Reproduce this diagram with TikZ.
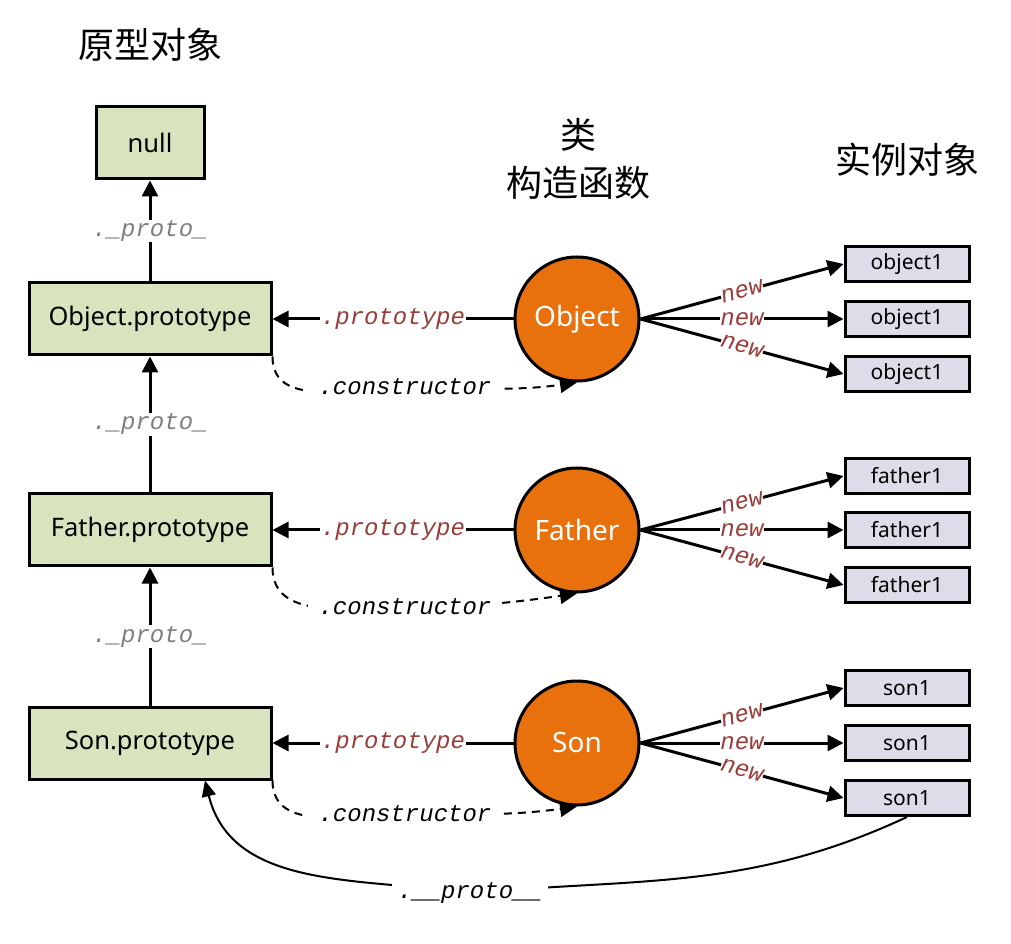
\documentclass[tikz,border=0pt]{standalone}
\usepackage{fontspec}
\setmainfont{Noto Sans}
\newfontfamily\cjkfont{Noto Sans CJK SC}
\newfontfamily\codefont{Liberation Mono}
\usetikzlibrary{arrows.meta,calc}
\definecolor{boxgreen}{HTML}{D7E4BD}
\definecolor{boxpurple}{HTML}{DFDBE9}
\definecolor{circorange}{HTML}{E8710E}
\definecolor{lblred}{HTML}{9A3D3A}
\definecolor{lblgray}{HTML}{7F7F7F}
\tikzset{
  protobox/.style={draw, line width=3pt, fill=boxgreen, minimum width=242pt, minimum height=72pt, inner sep=0pt, font=\fontsize{25.5}{30}\selectfont},
  nullbox/.style={protobox, minimum width=108pt},
  classnode/.style={circle, draw, line width=3pt, fill=circorange, minimum size=124pt, inner sep=0pt, text=white, font=\fontsize{28}{32}\selectfont},
  instbox/.style={draw, line width=3pt, fill=boxpurple, minimum width=124pt, minimum height=35pt, inner sep=0pt, font=\fontsize{21}{24}\selectfont},
  titletext/.style={font=\cjkfont\fontsize{36}{42}\selectfont, align=center},
  codebase/.style={font=\codefont\itshape\fontsize{24}{28}\selectfont, fill=white, inner sep=1pt},
  redlbl/.style={codebase, text=lblred},
  graylbl/.style={codebase, text=lblgray},
  blacklbl/.style={codebase, text=black},
  conslbl/.style={codebase, text=black, inner xsep=11pt},
  newlbl/.style={codebase, text=lblred, sloped, inner sep=0pt},
  arr/.style={line width=3pt, -{Triangle[length=16pt,width=16pt]}},
  dasharr/.style={line width=2pt, dash pattern=on 8pt off 6pt, -{Triangle[length=17pt,width=16pt]}},
  thinarr/.style={line width=2pt, -{Triangle[length=16pt,width=14pt]}}
}
\begin{document}
\begin{tikzpicture}[x=1pt,y=1pt]
\useasboundingbox (0,0) rectangle (1011,943);

% titles
\node[titletext] (t1) at (150,898) {原型对象};
\node[titletext] (t2) at (578,808) {类};
\node[titletext] (t3) at (578,760) {构造函数};
\node[titletext] (t4) at (907,783) {实例对象};

% prototype column
\node[nullbox]  (null) at (150,800) {null};
\node[protobox] (op)   at (150,624) {Object.prototype};
\node[protobox] (fp)   at (150,413) {Father.prototype};
\node[protobox] (sp)   at (150,200) {Son.prototype};

% constructors
\node[classnode] (oc) at (577,624) {Object};
\node[classnode] (fc) at (577,413) {Father};
\node[classnode] (sc) at (577,200) {Son};

% instances
\node[instbox] (o1) at (907,679) {object1};
\node[instbox] (o2) at (907,624) {object1};
\node[instbox] (o3) at (907,569) {object1};
\node[instbox] (f1) at (907,467) {father1};
\node[instbox] (f2) at (907,413) {father1};
\node[instbox] (f3) at (907,358) {father1};
\node[instbox] (s1) at (907,255) {son1};
\node[instbox] (s2) at (907,200) {son1};
\node[instbox] (s3) at (907,145) {son1};

% __proto__ chain
\draw[arr] (op.north) -- node[graylbl] {.\_proto\_} (null.south);
\draw[arr] (fp.north) -- node[graylbl] {.\_proto\_} (op.south);
\draw[arr] (sp.north) -- node[graylbl] {.\_proto\_} (fp.south);

% .prototype
\draw[arr] (oc.west) -- node[redlbl] {.prototype} (op.east);
\draw[arr] (fc.west) -- node[redlbl] {.prototype} (fp.east);
\draw[arr] (sc.west) -- node[redlbl] {.prototype} (sp.east);

% .constructor
\draw[dasharr] (op.south east) to[out=-90,in=180] (405,556) node[conslbl] {.constructor} to[out=0,in=188] (oc.south);
\draw[dasharr] (fp.south east) to[out=-90,in=180] (405,336) node[conslbl] {.constructor} to[out=0,in=188] (fc.south);
\draw[dasharr] (sp.south east) to[out=-90,in=180] (405,129) node[conslbl] {.constructor} to[out=0,in=188] (sc.south);

% new
\foreach \c/\a/\b/\d in {oc/o1/o2/o3, fc/f1/f2/f3, sc/s1/s2/s3}{
  \draw[arr] (\c.east) -- node[newlbl] {new} (\a.west);
  \draw[arr] (\c.east) -- node[newlbl] {new} (\b.west);
  \draw[arr] (\c.east) -- node[newlbl] {new} (\d.west);
}

% instance __proto__
\draw[thinarr] (s3.south) to[out=205,in=5] (470,50) node[blacklbl, inner xsep=6pt] {.\_\_proto\_\_} to[out=172,in=-76] ($(sp.south)+(55,0)$);
\end{tikzpicture}
\end{document}
